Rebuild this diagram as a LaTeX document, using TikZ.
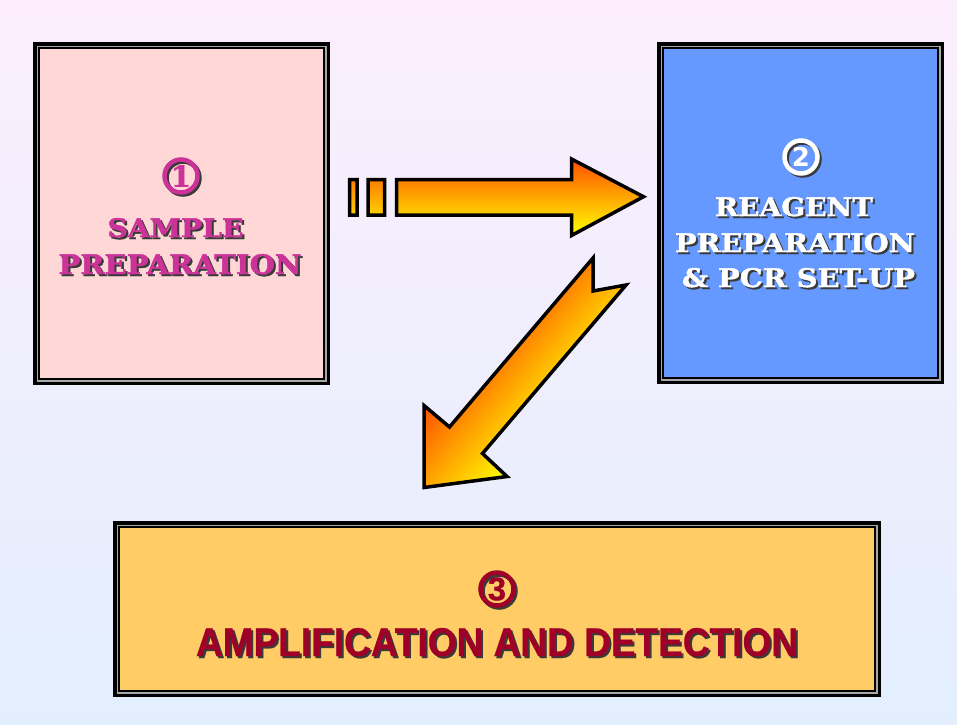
\documentclass[tikz,border=0pt]{standalone}
\usepackage{fontspec}
\usepackage{graphicx}
\setmainfont{DejaVu Serif}
\newfontfamily\heavyserif{DejaVu Serif Bold}[FakeBold=1.5]
\newfontfamily\arialfont{Liberation Sans}
\newfontfamily\arialheavy{Liberation Sans Bold}[FakeBold=0.6]
\newfontfamily\dvsans{DejaVu Sans}
\definecolor{bgtop}{HTML}{FCEEFC}
\definecolor{bgbot}{HTML}{E2EEFE}
\definecolor{pinkbox}{HTML}{FFD7D7}
\definecolor{bluebox}{HTML}{6699FF}
\definecolor{orangebox}{HTML}{FFCC66}
\definecolor{bordergray}{HTML}{A8A8A8}
\definecolor{magtext}{HTML}{CC3399}
\definecolor{redtext}{HTML}{A00028}
\definecolor{shadowc}{HTML}{3A3A3A}
\definecolor{arrtop}{HTML}{FF5000}
\definecolor{arrbot}{HTML}{FFFF00}
\newcommand\fitline[5]{\rlap{\hspace*{2pt}\raisebox{-2pt}{\color{#5}\resizebox{#1}{#2}{#3}}}{\color{#4}\resizebox{#1}{#2}{#3}}}
\begin{document}
\begin{tikzpicture}[x=1pt,y=-1pt,
  box/.style={draw=black, line width=3.5pt, inner sep=0pt, outer sep=0pt, rectangle},
  ring/.style={circle, line width=4.5pt, minimum size=33pt, inner sep=0pt, outer sep=0pt},
  lbl/.style={anchor=base, inner sep=0pt, outer sep=0pt, font=\heavyserif},
  arrowline/.style={draw=black, line width=3.5pt, line join=miter}]
\useasboundingbox (0,0) rectangle (957,724);
\shade[top color=bgtop, bottom color=bgbot] (0,0) rectangle (957,724);
% boxes
\node[box, fill=pinkbox, minimum width=293.5pt, minimum height=339.5pt] (b1) at (181.5,213.5) {};
\node[box, fill=bluebox, minimum width=283.5pt, minimum height=338.5pt] (b2) at (800.5,213) {};
\node[box, fill=orangebox, minimum width=764.5pt, minimum height=172.5pt] (b3) at (497,609) {};
\foreach \b in {b1,b2,b3}{
  \draw[bordergray, line width=2pt] ([shift={(2.75,2.75)}]\b.north west) rectangle ([shift={(-2.75,-2.75)}]\b.south east);
  \draw[black, line width=1.8pt] ([shift={(4.6,4.6)}]\b.north west) rectangle ([shift={(-4.6,-4.6)}]\b.south east);
}
% right arrow
\path[arrowline, top color=arrtop, bottom color=arrbot]
  (349.5,179.5) -- (357,179.5) -- (357,215) -- (349.5,215) -- cycle
  (368,179.5) -- (384.5,179.5) -- (384.5,215) -- (368,215) -- cycle
  (396.5,179.5) -- (571.5,179.5) -- (571.5,159) -- (643.5,196.7) -- (571.5,235.5) -- (571.5,215) -- (396.5,215) -- cycle;
% diagonal arrow: gradient across the shaft
\begin{scope}
  \clip (593,258) -- (593,291) -- (626,285) -- (482.5,453.5) -- (507,476.5) -- (424,487.5) -- (424,405.5) -- (449.5,427) -- cycle;
  \foreach \s in {-58,-56,...,58}{
    \pgfmathsetmacro\f{max(0,min(100,(\s+55)/109*100))}
    \fill[arrbot!\f!arrtop]
      ({525+\s*0.76+130},{372+\s*0.65-152}) -- ({525+(\s+2.6)*0.76+130},{372+(\s+2.6)*0.65-152})
      -- ({525+(\s+2.6)*0.76-130},{372+(\s+2.6)*0.65+152}) -- ({525+\s*0.76-130},{372+\s*0.65+152}) -- cycle;
  }
\end{scope}
\path[arrowline]
  (593,258) -- (593,291) -- (626,285) -- (482.5,453.5) -- (507,476.5) -- (424,487.5) -- (424,405.5) -- (449.5,427) -- cycle;
% box 1 texts
\coordinate (c1) at (181,176);
\node[ring, draw=shadowc] at ([shift={(2,2)}]c1) {};
\node[ring, draw=magtext, text=magtext, font=\heavyserif\fontsize{29}{29}\selectfont] (n1) at (c1) {1};
\node[lbl] (s1) at (175.5,237) {\fitline{136pt}{19pt}{SAMPLE}{magtext}{shadowc}};
\node[lbl] (p1) at (180,274) {\fitline{243pt}{20pt}{PREPARATION}{magtext}{shadowc}};
% box 2 texts
\coordinate (c2) at (801,157);
\node[ring, draw=shadowc] at ([shift={(2,2)}]c2) {};
\node[ring, draw=white, text=white, font=\dvsans\bfseries\fontsize{26}{26}\selectfont] (n2) at (c2) {2};
\node[lbl] (r2) at (794,216) {\fitline{158pt}{19pt}{REAGENT}{white}{shadowc}};
\node[lbl] (p2) at (795,252) {\fitline{240pt}{19pt}{PREPARATION}{white}{shadowc}};
\node[lbl] (u2) at (798.5,287) {\fitline{233pt}{19pt}{\& PCR SET-UP}{white}{shadowc}};
% box 3 texts
\coordinate (c3) at (497,589);
\node[ring, draw=shadowc] at ([shift={(2,2)}]c3) {};
\node[ring, draw=redtext, text=redtext, font=\arialheavy\fontsize{33}{33}\selectfont] (n3) at (c3) {3};
\node[lbl, font=\arialheavy] (a3) at (497,656) {\fitline{602pt}{28pt}{AMPLIFICATION AND DETECTION}{redtext}{shadowc}};
\end{tikzpicture}
\end{document}
